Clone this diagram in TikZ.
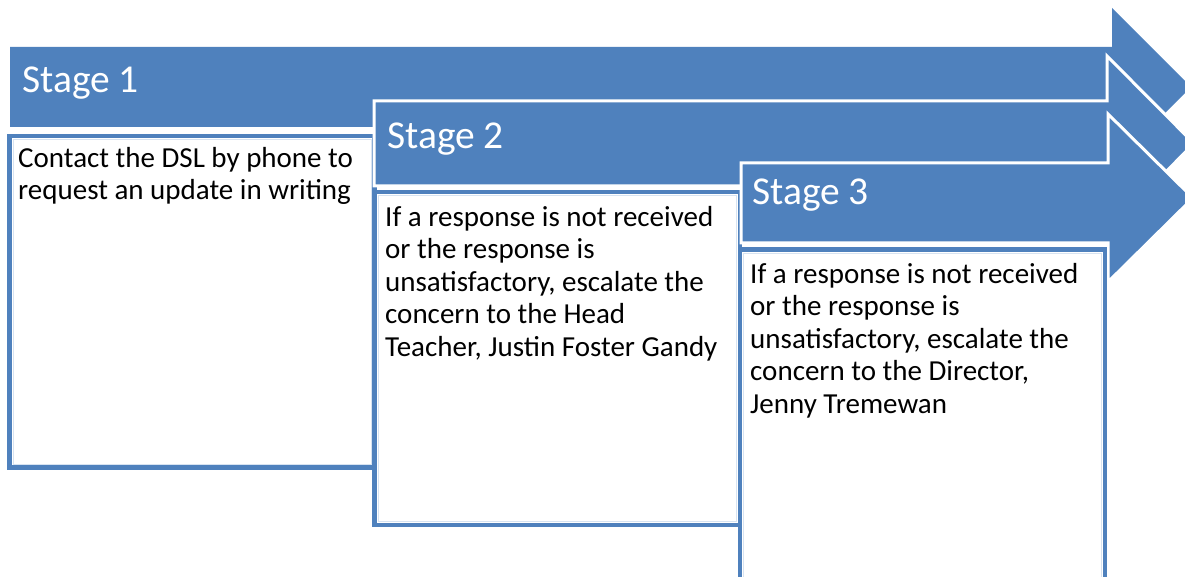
\documentclass[tikz,border=0pt]{standalone}
\usepackage{fontspec}
\setmainfont{Carlito}
\definecolor{stageblue}{RGB}{79,129,189}
\definecolor{paleblue}{RGB}{215,227,241}
\tikzset{
  stagearrow/.style={fill=stageblue, draw=white, line width=3pt, line join=miter},
  firstarrow/.style={fill=stageblue, draw=none},
  stagelabel/.style={anchor=base west, inner sep=0pt, text=white, font=\fontsize{39.5}{46}\selectfont},
  notebox/.style={fill=white, draw=stageblue, line width=4.8pt},
  noteinner/.style={draw=paleblue, line width=0.8pt},
  % the base anchor of a multi-line node sits on its last line
  notetext/.style={anchor=base west, inner sep=0pt, align=left, text=black,
    font=\fontsize{29}{32.5}\selectfont}
}
\begin{document}
\begin{tikzpicture}[x=1pt,y=-1pt]
\useasboundingbox (0,0) rectangle (1185,577);
\clip (0,0) rectangle (1185,577);

% Stage 1 arrow
\path[firstarrow] (10,47) -- (1112,47) -- (1112,8) -- (1191,87) -- (1112,166) -- (1112,127) -- (10,127) -- cycle;
\node[stagelabel] (s1) at (22,93) {Stage 1};

% Stage 1 note
\draw[notebox] (9.5,136) rectangle (374.5,467.5);
\draw[noteinner] (13,139.5) rectangle (371,464);
\node[notetext] (t1) at (18,200) {Contact the DSL by phone to\\request an update in writing};

% Stage 2 arrow
\path[stagearrow] (374,101) -- (1107,101) -- (1107,56) -- (1194,143.5) -- (1107,231) -- (1107,186) -- (374,186) -- cycle;
\node[stagelabel] (s2) at (387,149) {Stage 2};

% Stage 2 note
\draw[notebox] (374.5,192) rectangle (740,525);
\draw[noteinner] (378,195.5) rectangle (736.5,521.5);
\node[notetext] (t2) at (385,356) {If a response is not received\\or the response is\\unsatisfactory, escalate the\\concern to the Head\\Teacher, Justin Foster Gandy};

% Stage 3 arrow
\path[stagearrow] (741,163) -- (1108,163) -- (1108,114) -- (1193,198) -- (1108,282) -- (1108,243) -- (741,243) -- cycle;
\node[stagelabel] (s3) at (752,205) {Stage 3};

% Stage 3 note
\draw[notebox] (740,249.5) rectangle (1105,582);
\draw[noteinner] (743.5,253) rectangle (1101.5,579);
\node[notetext] (t3) at (750,413) {If a response is not received\\or the response is\\unsatisfactory, escalate the\\concern to the Director,\\Jenny Tremewan};
\end{tikzpicture}
\end{document}
